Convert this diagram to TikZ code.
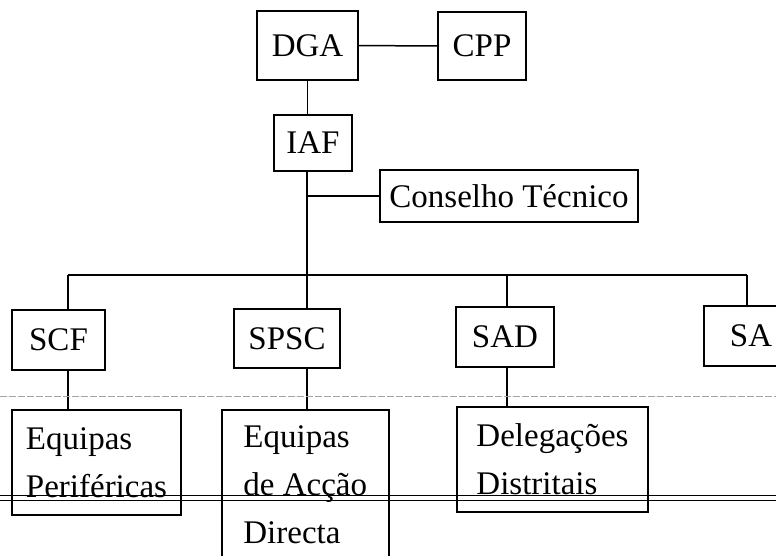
\documentclass[tikz,border=0pt]{standalone}
\usepackage{fontspec}
\setmainfont{Liberation Serif}
\usepackage{tikz}
\usetikzlibrary{positioning}
\tikzset{%
  org box/.style={
    rectangle,
    draw,
    line width=1.5pt,
    inner sep=0pt,
    align=left,
    font=\fontsize{33}{48}\selectfont
  },
  org line/.style={
    line width=1.5pt
  },
  scan rule/.style={
    line width=1pt
  },
  scan dash/.style={
    gray!70, line width=0.6pt,
    dash pattern=on 7pt off 2pt
  },
}
\begin{document}
\begin{tikzpicture}[x=1pt, y=-1pt]
\useasboundingbox (0,0) rectangle (776,556);
    % top level
    \node[org box, minimum width=101, minimum height=69] (dga) at (307.5,45.5) {DGA};
    \node[org box, minimum width=88, minimum height=68] (cpp) at (482,46) {CPP};
    \node[org box, minimum width=78, minimum height=56] (iaf) at (313,143) {IAF};
    \node[org box, minimum width=258, minimum height=52] (cons) at (509,196) {Conselho Técnico};

    % services
    \node[org box, minimum width=93, minimum height=60] (scf) at (58.5,340) {SCF};
    \node[org box, minimum width=106, minimum height=59] (spsc) at (287,338.5) {SPSC};
    \node[org box, minimum width=98, minimum height=60] (sad) at (505,337) {SAD};
    \node[org box, minimum width=94, minimum height=60] (sa) at (751,336) {SA};

    % teams
    \node[org box, minimum width=169, minimum height=105] (ep) at (96.5,462.5) {Equipas\\Periféricas};
    \node[org box, minimum width=167, minimum height=150, anchor=north west] (ead) at (221,409) {Equipas\\de Acção\\Directa};
    \node[org box, minimum width=191, minimum height=105] (dd) at (552.5,459.5) {Delegações\\Distritais};

    \coordinate (bus l) at (68,275);
    \coordinate (hub) at (307,275);
    \coordinate (bus r) at (747,275);
    \coordinate (bus d) at (507,275);

    % connectors
    \draw[org line] (dga) -- (cpp);
    \draw[org line] (dga.south) -- (dga.south |- iaf.north);
    \draw[org line] (iaf.south -| hub) -- (hub);
    \draw[org line] (cons.west) -- (cons.west -| hub);
    \draw[org line] (bus l) -- (bus r);
    \draw[org line] (bus l) -- (bus l |- scf.north);
    \draw[org line] (hub) -- (hub |- spsc.north);
    \draw[org line] (bus d) -- (bus d |- sad.north);
    \draw[org line] (bus r) -- (bus r |- sa.north);
    \draw[org line] (scf.south -| bus l) -- (ep.north -| bus l);
    \draw[org line] (spsc.south -| hub) -- (ead.north -| hub);
    \draw[org line] (sad.south -| bus d) -- (dd.north -| bus d);

    % page rules of the scan
    \draw[scan dash] (0,396) -- (776,396);
    \draw[scan rule] (0,495) -- (776,495);
    \draw[scan rule] (0,500) -- (776,500);
\end{tikzpicture}
\end{document}
